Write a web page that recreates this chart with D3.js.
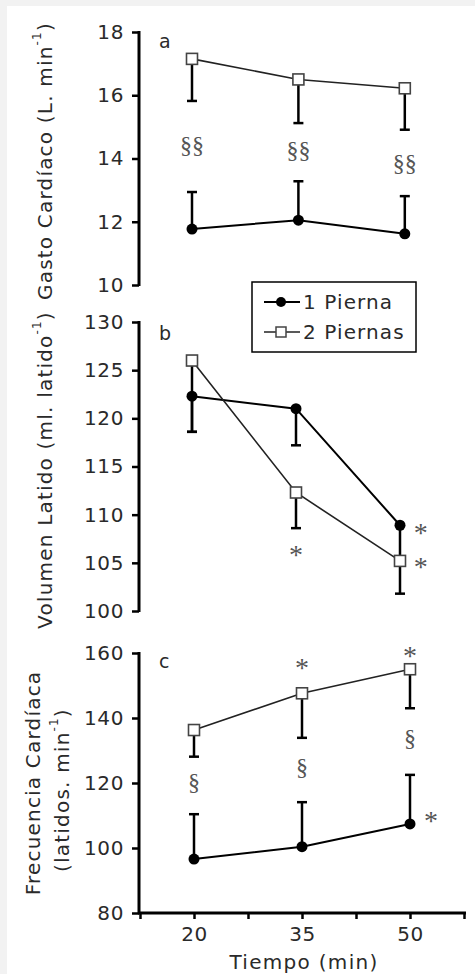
<!DOCTYPE html>
<html><head><meta charset="utf-8">
<script src="https://cdnjs.cloudflare.com/ajax/libs/d3/7.8.5/d3.min.js"></script>
<style>
html,body{margin:0;padding:0;background:#f2f2f2;}
svg{display:block;}
</style></head><body>
<script>
// ---- data ----
const times = [20, 35, 50];
const xTicksAll = [12.5, 20, 27.5, 35, 42.5, 50, 57.5];
const xTickLabels = [20, 35, 50];
const series = ["1 Pierna", "2 Piernas"];

// Panel a: Gasto Cardiaco (L. min-1)
const gcOne = [11.77, 12.05, 11.62];
const gcOneErr = [12.94, 13.28, 12.81];
const gcTwo = [17.15, 16.5, 16.22];
const gcTwoErr = [15.82, 15.12, 14.91];
const gcTicks = [10, 12, 14, 16, 18];
const gcMarks = [["§§", 20, 14.42], ["§§", 35, 14.27], ["§§", 50, 13.85]];

// Panel b: Volumen Latido (ml. latido-1)
const vlOne = [122.3, 121.0, 108.9];
const vlOneErr = [118.6, 117.2, 105.3];
const vlTwo = [126.0, 112.3, 105.2];
const vlTwoErr = [118.6, 108.6, 101.8];
const vlTicks = [100, 105, 110, 115, 120, 125, 130];
const vlMarks = [["*", 35, 106.3], ["*", 53, 108.6], ["*", 53, 105.0]];

// Panel c: Frecuencia Cardiaca (latidos. min-1)
const fcOne = [96.6, 100.4, 107.4];
const fcOneErr = [110.4, 114.1, 122.5];
const fcTwo = [136.3, 147.6, 155.0];
const fcTwoErr = [128.1, 133.9, 143.0];
const fcTicks = [80, 100, 120, 140, 160];
const fcMarks = [["§", 20, 120.3], ["§", 35, 125.0], ["§", 50, 133.8], ["*", 35, 156.9], ["*", 50, 160.4], ["*", 52.9, 109.6]];

const W = 475, H = 974;
const FONT = "'DejaVu Sans', Verdana, sans-serif";
const TXT = "#2a2a2a";
const svg = d3.select("body").append("svg").attr("width", W).attr("height", H);
svg.append("rect").attr("x", 7).attr("y", 6).attr("width", W - 7).attr("height", H - 6).attr("fill", "#fff");

function styleText(sel, size, ls) {
  return sel.attr("font-family", FONT).attr("font-size", size).attr("fill", TXT).attr("letter-spacing", ls);
}

function panel(cfg) {
  const x = d3.scaleLinear().domain([12.5, 57.5]).range(cfg.xRange);
  const y = d3.scaleLinear().domain(cfg.yDomain).range(cfg.yRange);
  const g = svg.append("g");
  // y axis
  const ax = g.append("g").attr("transform", "translate(139,0)")
    .call(d3.axisLeft(y).tickValues(cfg.ticks).tickSize(7).tickPadding(9).tickFormat(d3.format("d")));
  ax.select(".domain").attr("stroke", "#000").attr("stroke-width", 3).attr("d", `M0,${y.range()[1] - 1}V${y.range()[0] + 1}`);
  ax.selectAll(".tick line").attr("stroke", "#000").attr("stroke-width", 2.5);
  styleText(ax.selectAll(".tick text"), 20, 0.6).attr("dx", 1);

  // error bars
  const errs = [[cfg.one, cfg.oneErr], [cfg.two, cfg.twoErr]];
  errs.forEach(([v, e]) => {
    times.forEach((t, i) => {
      g.append("line").attr("x1", x(t)).attr("x2", x(t)).attr("y1", y(v[i])).attr("y2", y(e[i]))
        .attr("stroke", "#000").attr("stroke-width", 2.5);
      g.append("line").attr("x1", x(t) - 5).attr("x2", x(t) + 5).attr("y1", y(e[i])).attr("y2", y(e[i]))
        .attr("stroke", "#000").attr("stroke-width", 2.5);
    });
  });
  const line = d3.line().x((d, i) => x(times[i])).y(d => y(d));
  g.append("path").attr("d", line(cfg.one)).attr("fill", "none").attr("stroke", "#000").attr("stroke-width", 2);
  g.append("path").attr("d", line(cfg.two)).attr("fill", "none").attr("stroke", "#222").attr("stroke-width", 1.6);
  cfg.one.forEach((v, i) => g.append("circle").attr("cx", x(times[i])).attr("cy", y(v)).attr("r", 5.5).attr("fill", "#000"));
  cfg.two.forEach((v, i) => g.append("rect").attr("x", x(times[i]) - 5.5).attr("y", y(v) - 5.5)
    .attr("width", 11).attr("height", 11).attr("fill", "#fff").attr("stroke", "#444").attr("stroke-width", 1.6));

  // significance marks
  cfg.marks.forEach(([s, t, v]) => {
    g.append("text").attr("x", x(t)).attr("y", y(v)).attr("text-anchor", "middle").attr("dominant-baseline", "central")
      .attr("dy", s === "*" ? 4 : 0)
      .attr("font-family", "'Liberation Serif', 'Times New Roman', serif").attr("font-size", s === "*" ? 28 : 24)
      .attr("fill", "#555").text(s);
  });
  // panel letter
  styleText(g.append("text").attr("x", 159).attr("y", cfg.letterY).attr("dominant-baseline", "central"), 19, 0)
    .text(cfg.letter);
  return { x, y, g };
}

panel({ xRange: [138.8, 458], yDomain: [10, 18], yRange: [285, 32], ticks: gcTicks,
  one: gcOne, oneErr: gcOneErr, two: gcTwo, twoErr: gcTwoErr, marks: gcMarks, letter: "a", letterY: 41 });
panel({ xRange: [140, 452], yDomain: [100, 130], yRange: [611, 322], ticks: vlTicks,
  one: vlOne, oneErr: vlOneErr, two: vlTwo, twoErr: vlTwoErr, marks: vlMarks, letter: "b", letterY: 333 });
const pc = panel({ xRange: [140, 464], yDomain: [80, 160], yRange: [913, 653], ticks: fcTicks,
  one: fcOne, oneErr: fcOneErr, two: fcTwo, twoErr: fcTwoErr, marks: fcMarks, letter: "c", letterY: 661 });

// x axis (panel c)
const xa = svg.append("g").attr("transform", "translate(0,913)")
  .call(d3.axisBottom(pc.x).tickValues(xTicksAll).tickSize(6).tickPadding(8)
    .tickFormat(d => xTickLabels.includes(d) ? d : ""));
xa.select(".domain").attr("stroke", "#000").attr("stroke-width", 3).attr("d", `M138,0H466`);
xa.selectAll(".tick line").attr("stroke", "#000").attr("stroke-width", 2.5);
styleText(xa.selectAll(".tick text"), 20, 0.6);
styleText(svg.append("text").attr("x", 304).attr("y", 962).attr("text-anchor", "middle").attr("dominant-baseline", "central"), 20, 1.3)
  .text("Tiempo (min)");

// y titles
function ytitle(cx, cy, main, tail) {
  const t = styleText(svg.append("text").attr("transform", `translate(${cx},${cy}) rotate(-90)`).attr("text-anchor", "middle")
    .attr("dominant-baseline", "central"), 20, 1.2);
  t.append("tspan").text(main);
  t.append("tspan").attr("font-size", 12).attr("dy", -8).text("-1");
  t.append("tspan").attr("dy", 8).text(tail);
}
ytitle(45, 161, "Gasto Cardíaco (L. min", ")");
ytitle(45, 470, "Volumen Latido (ml. latido", ")");
styleText(svg.append("text").attr("transform", "translate(33,783) rotate(-90)").attr("text-anchor", "middle")
  .attr("dominant-baseline", "central"), 20, 1.2).text("Frecuencia Cardíaca");
ytitle(62, 790, "(latidos. min", ")");

// legend
const lg = svg.append("g");
lg.append("rect").attr("x", 252).attr("y", 282).attr("width", 164).attr("height", 70)
  .attr("fill", "#fff").attr("stroke", "#000").attr("stroke-width", 1.5);
series.forEach((s, i) => {
  const yy = 302 + i * 30;
  lg.append("line").attr("x1", 264).attr("x2", 300).attr("y1", yy).attr("y2", yy)
    .attr("stroke", i ? "#222" : "#000").attr("stroke-width", i ? 1.6 : 2);
  if (i === 0) lg.append("circle").attr("cx", 281).attr("cy", yy).attr("r", 5).attr("fill", "#000");
  else lg.append("rect").attr("x", 276).attr("y", yy - 5).attr("width", 10).attr("height", 10)
    .attr("fill", "#fff").attr("stroke", "#444").attr("stroke-width", 1.5);
  styleText(lg.append("text").attr("x", 303).attr("y", yy).attr("dominant-baseline", "central"), 20, 1.1).text(s);
});
</script>
</body></html>
